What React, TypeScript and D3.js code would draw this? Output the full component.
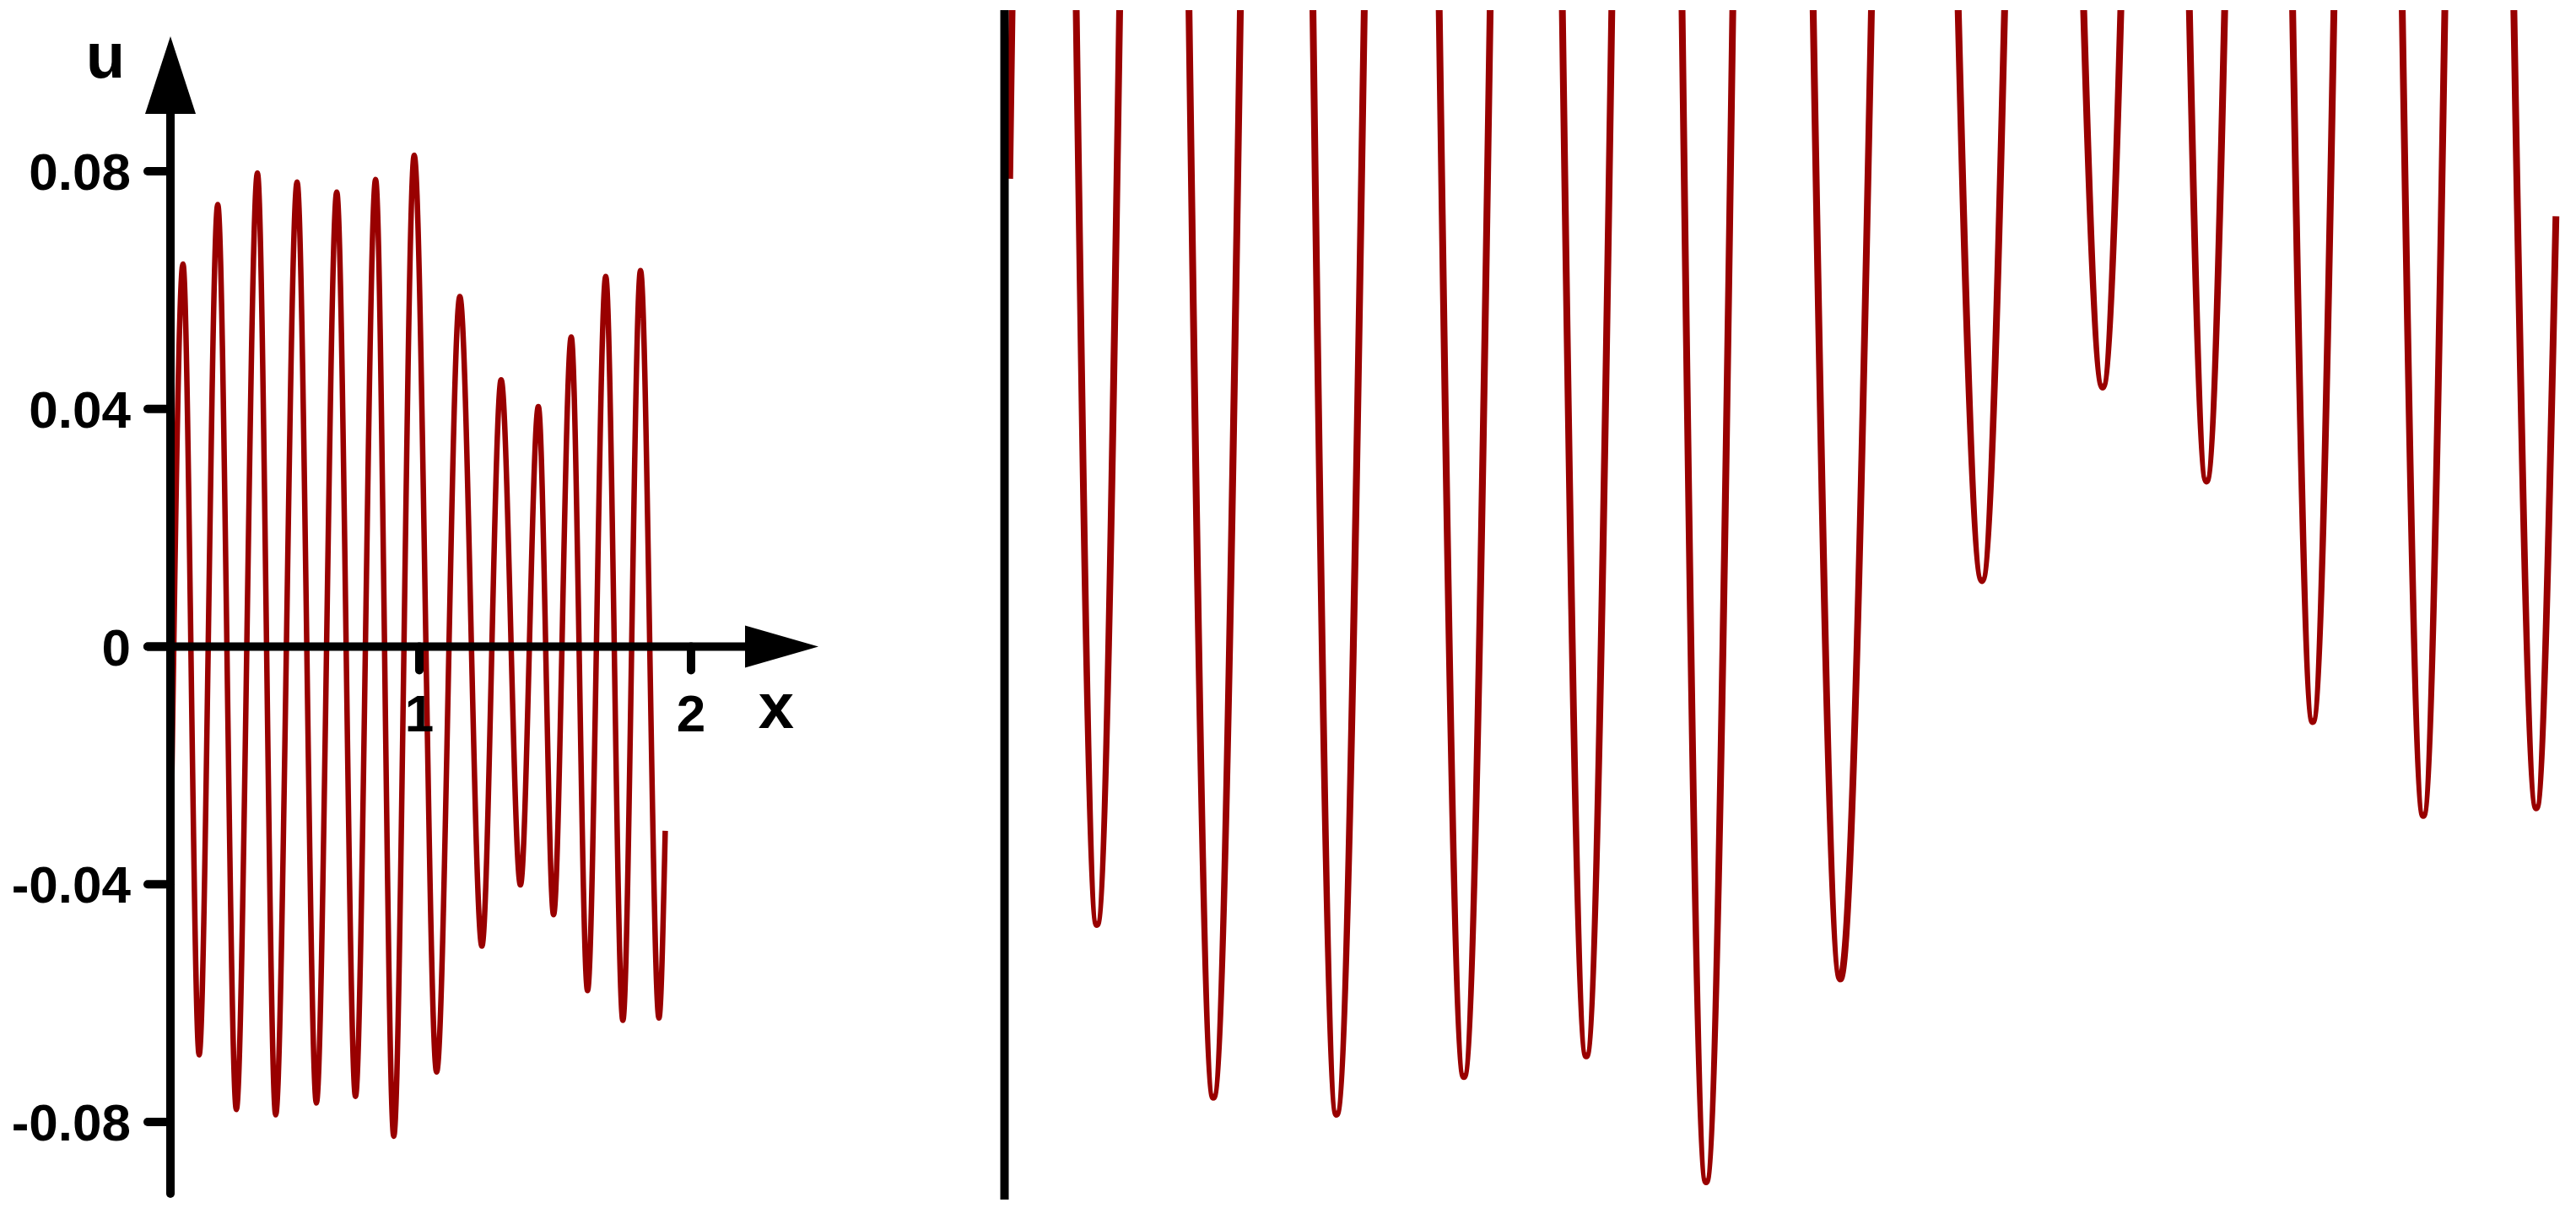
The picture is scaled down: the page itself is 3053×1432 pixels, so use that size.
import React, { useEffect, useRef } from 'react';
import * as d3 from 'd3';

const uTicks = [0.08, 0.04, 0, -0.04, -0.08];
const uTickLabels = ['0.08', '0.04', '0', '-0.04', '-0.08'];
const xTicks = [1, 2];
const xTickLabels = ['1', '2'];

// turning points of the curve
const crestX = [0.130, 0.258, 0.404, 0.550, 0.696, 0.839, 0.981, 1.149, 1.301, 1.438, 1.559, 1.686, 1.814];
const crestU = [0.0644, 0.0744, 0.0797, 0.0782, 0.0765, 0.0786, 0.0827, 0.0589, 0.0449, 0.0404, 0.0521, 0.0623, 0.0633];
const troughX = [0.1895, 0.3264, 0.4712, 0.6210, 0.7649, 0.9058, 1.0635, 1.2302, 1.3720, 1.4940, 1.6190, 1.7490, 1.8819];
const troughU = [-0.0687, -0.0779, -0.0788, -0.0768, -0.0757, -0.0824, -0.0716, -0.0504, -0.0401, -0.0451, -0.0579, -0.0629, -0.0625];
const startX = 0.087, startU = -0.029;
const endX = 1.905, endU = -0.031;

const RED = '#990000';
const FONT = '"Liberation Sans", Arial, sans-serif';

export default function App() {
    const ref = useRef<SVGSVGElement>(null);

    useEffect(() => {
        const svg = d3.select(ref.current);
        svg.selectAll('*').remove();

        let points: [number, number][] = [[startX, startU]];
        crestX.forEach((x, i) => {
            points.push([x, crestU[i]]);
            points.push([troughX[i], troughU[i]]);
        });
        points.push([endX, endU]);

        // left panel scales
        let xL = d3.scaleLinear().domain([1, 2]).range([497, 819]);
        let uL = d3.scaleLinear().domain([0.08, -0.08]).range([203, 1330]);
        // right panel: magnified view of the lower part
        let xR = d3.scaleLinear().domain([0, 1]).range([1109, 2117]);
        let uR = d3.scaleLinear().domain([0, -0.1]).range([-434, 1793]);

        let axisX = 202;
        let axisData = xL.invert(axisX);

        // ---- left panel ----
        let left = svg.append('g');

        let lineL = d3.line<[number, number]>()
            .x(d => xL(d[0]))
            .y(d => uL(d[1]))
            .curve(d3.curveMonotoneX);

        left.append('path')
            .attr('d', lineL(points))
            .attr('fill', 'none')
            .attr('stroke', RED)
            .attr('stroke-width', 6.5);

        // x axis
        left.append('line')
            .attr('x1', 175).attr('x2', 885)
            .attr('y1', uL(0)).attr('y2', uL(0))
            .attr('stroke', 'black').attr('stroke-width', 10)
            .attr('stroke-linecap', 'round');
        left.append('polygon')
            .attr('points', `883,${uL(0) - 25} 970,${uL(0)} 883,${uL(0) + 25}`)
            .attr('fill', 'black');

        // y axis
        left.append('line')
            .attr('x1', axisX).attr('x2', axisX)
            .attr('y1', 130).attr('y2', 1415)
            .attr('stroke', 'black').attr('stroke-width', 10)
            .attr('stroke-linecap', 'round');
        left.append('polygon')
            .attr('points', `${axisX},43 ${axisX - 30},135 ${axisX + 30},135`)
            .attr('fill', 'black');

        left.selectAll('.utick')
            .data(uTicks)
            .enter()
            .append('line')
            .attr('x1', 175).attr('x2', axisX)
            .attr('y1', d => uL(d)).attr('y2', d => uL(d))
            .attr('stroke', 'black').attr('stroke-width', 10)
            .attr('stroke-linecap', 'round');

        left.selectAll('.ulabel')
            .data(uTicks)
            .enter()
            .append('text')
            .attr('x', 155)
            .attr('y', d => uL(d) + 22)
            .attr('text-anchor', 'end')
            .attr('font-family', FONT)
            .attr('font-weight', 'bold')
            .attr('font-size', 62)
            .text((d, i) => uTickLabels[i]);

        left.selectAll('.xtick')
            .data(xTicks)
            .enter()
            .append('line')
            .attr('x1', d => xL(d)).attr('x2', d => xL(d))
            .attr('y1', uL(0)).attr('y2', uL(0) + 28)
            .attr('stroke', 'black').attr('stroke-width', 10)
            .attr('stroke-linecap', 'round');

        left.selectAll('.xlabel')
            .data(xTicks)
            .enter()
            .append('text')
            .attr('x', d => xL(d))
            .attr('y', 867)
            .attr('text-anchor', 'middle')
            .attr('font-family', FONT)
            .attr('font-weight', 'bold')
            .attr('font-size', 62)
            .text((d, i) => xTickLabels[i]);

        left.append('text')
            .attr('x', 125).attr('y', 92)
            .attr('text-anchor', 'middle')
            .attr('font-family', FONT)
            .attr('font-weight', 'bold')
            .attr('font-size', 76)
            .text('u');

        left.append('text')
            .attr('x', 920).attr('y', 863)
            .attr('text-anchor', 'middle')
            .attr('font-family', FONT)
            .attr('font-weight', 'bold')
            .attr('font-size', 76)
            .text('x');

        // ---- right panel ----
        svg.append('clipPath')
            .attr('id', 'zoomclip')
            .append('rect')
            .attr('x', 1150).attr('y', 12)
            .attr('width', 1903).attr('height', 1420);

        let right = svg.append('g').attr('clip-path', 'url(#zoomclip)');

        let lineR = d3.line<[number, number]>()
            .x(d => xR(d[0]))
            .y(d => uR(d[1]))
            .curve(d3.curveMonotoneX);

        right.append('path')
            .attr('d', lineR(points))
            .attr('fill', 'none')
            .attr('stroke', RED)
            .attr('stroke-width', 8);

        right.append('line')
            .attr('x1', xR(axisData) - 3).attr('x2', xR(axisData) - 3)
            .attr('y1', 0).attr('y2', 1422)
            .attr('stroke', 'black').attr('stroke-width', 10);
    }, []);

    return (
        <svg ref={ref} width={3053} height={1432}
            style={{ position: 'absolute', left: 0, top: 0, background: 'white', display: 'block' }}>
        </svg>
    );
}
